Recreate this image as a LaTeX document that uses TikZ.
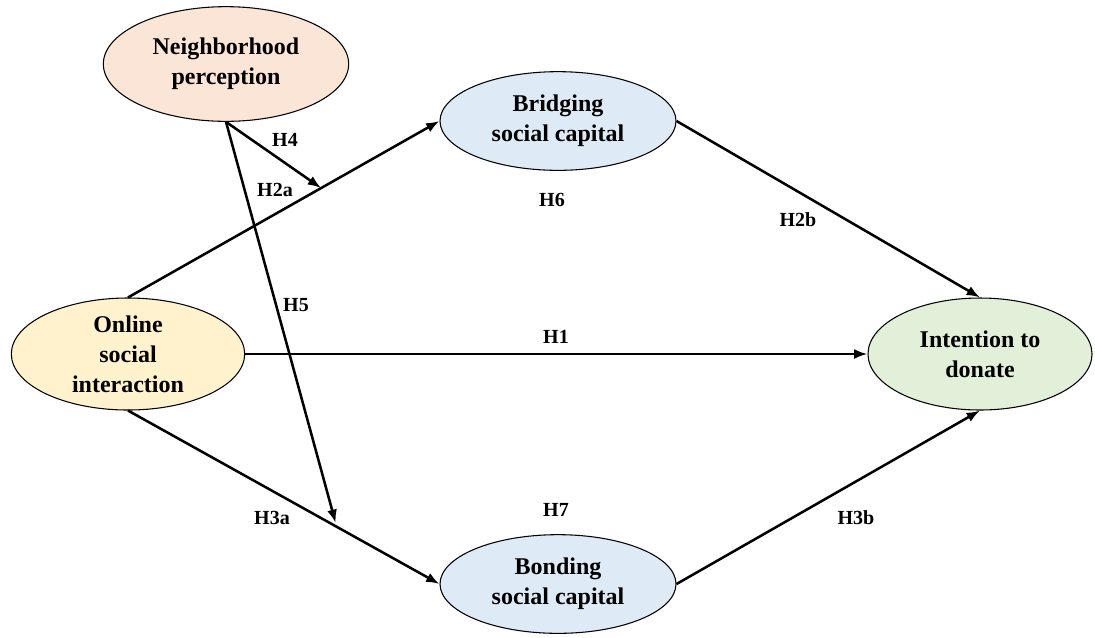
\documentclass[tikz,border=0pt]{standalone}
\usepackage{fontspec}
\setmainfont{Liberation Serif}
\usetikzlibrary{arrows.meta,calc,shapes.geometric}
\definecolor{npeach}{RGB}{251,229,214}
\definecolor{nblue}{RGB}{222,235,247}
\definecolor{nyellow}{RGB}{255,242,204}
\definecolor{ngreen}{RGB}{226,240,217}

\begin{document}
\begin{tikzpicture}[x=0.75pt,y=-0.75pt,>={Latex[length=10pt,width=7.5pt]},
    construct/.style={draw,ellipse,line width=0.8pt,inner sep=0pt,align=center,
      font=\fontsize{18}{22.5}\selectfont\bfseries},
    hyp/.style={font=\fontsize{15}{18}\selectfont\bfseries,inner sep=1pt},
    path/.style={->,line width=1.9pt}]
    \useasboundingbox (0,0) rectangle (1095,637);
    % constructs
    \node[construct,fill=npeach,minimum width=184pt,minimum height=86pt] (nbh) at (226,64) {Neighborhood\\perception};
    \node[construct,fill=nblue,minimum width=177pt,minimum height=74pt] (brid) at (558,121) {Bridging\\social capital};
    \node[construct,fill=nyellow,minimum width=175pt,minimum height=84pt] (osi) at (128,354) {Online\\social\\interaction};
    \node[construct,fill=ngreen,minimum width=168pt,minimum height=84pt] (itd) at (980,354) {Intention to\\donate};
    \node[construct,fill=nblue,minimum width=177pt,minimum height=74pt] (bond) at (558,584) {Bonding\\social capital};
    % paths
    \draw[path] (osi.north) -- (brid.west);
    \draw[path] (osi.east) -- (itd.west);
    \draw[path] (osi.south) -- (bond.west);
    \draw[path] (brid.east) -- (itd.north);
    \draw[path] (bond.east) -- (itd.south);
    % moderation
    \coordinate (m4) at ($(osi.north)!0.62!(brid.west)$);
    \coordinate (m5) at ($(osi.south)!0.67!(bond.west)$);
    \draw[path] (nbh.south) -- (m4);
    \draw[path,shorten >=3pt] (nbh.south) -- (m5);
    % hypotheses
    \node[hyp] (h4) at (285,140) {H4};
    \node[hyp] (h2a) at (275,190) {H2a};
    \node[hyp] (h6) at (552,200) {H6};
    \node[hyp] (h2b) at (798,220) {H2b};
    \node[hyp] (h5) at (296,305) {H5};
    \node[hyp] (h1) at (556,337) {H1};
    \node[hyp] (h3a) at (272,518) {H3a};
    \node[hyp] (h7) at (556,510) {H7};
    \node[hyp] (h3b) at (856,518) {H3b};
\end{tikzpicture}
\end{document}
